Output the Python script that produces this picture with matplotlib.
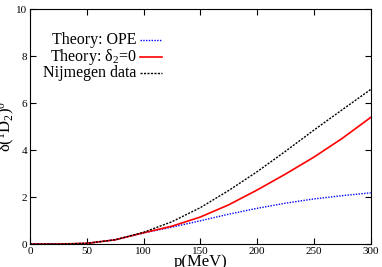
import numpy as np
import matplotlib
matplotlib.use("Agg")
import matplotlib.pyplot as plt
from matplotlib.lines import Line2D

plt.rcParams['font.family'] = ['Liberation Serif', 'DejaVu Serif']
plt.rcParams['mathtext.fontset'] = 'custom'
plt.rcParams['mathtext.rm'] = 'Liberation Serif'
plt.rcParams['mathtext.it'] = 'Liberation Serif:italic'

# momentum grid (MeV) and phase shifts
p = [0, 25, 50, 75, 100, 125, 150, 175, 200, 225, 250, 275, 300]
ope = [0, 0.0, 0.03, 0.18, 0.47, 0.72, 0.99, 1.27, 1.52, 1.74, 1.92, 2.06, 2.18]
delta2_zero = [0, 0.0, 0.03, 0.18, 0.48, 0.76, 1.15, 1.67, 2.3, 2.98, 3.7, 4.5, 5.39]
nijmegen = [0, 0.0, 0.03, 0.18, 0.5, 0.95, 1.55, 2.28, 3.08, 3.95, 4.85, 5.72, 6.58]

labels = ["Theory: OPE", "Theory: δ$_2$=0", "Nijmegen data"]
colors = ["blue", "red", "black"]
styles = [(0, (1, 1)), "-", (0, (1.5, 1))]
widths = [1, 1.2, 1]

fig = plt.figure(figsize=(3.82, 2.67), dpi=100)
ax = fig.add_axes([0.0785, 0.086, 0.892, 0.88])

for ys, c, ls, lw in zip([ope, delta2_zero, nijmegen], colors, styles, widths):
    ax.plot(p, ys, color=c, ls=ls, lw=lw)

ax.set_xlim(0, 300)
ax.set_ylim(0, 10)
ax.set_xticks([0, 50, 100, 150, 200, 250, 300])
ax.set_yticks([0, 2, 4, 6, 8, 10])
ax.tick_params(direction="in", top=True, right=True, labelsize=8, length=4, pad=2)
for s in ax.spines.values():
    s.set_linewidth(0.8)

ax.set_xlabel("p(MeV)", fontsize=12, labelpad=-1)
ax.set_ylabel("δ($^1$D$_2$)$^0$", fontsize=12, labelpad=-1)

# gnuplot-style key: text right-aligned, sample line to the right
row_y = [0.868, 0.798, 0.727]
for lab, c, ls, lw, y in zip(labels, colors, styles, widths, row_y):
    ax.text(0.312, y, lab, transform=ax.transAxes, ha="right", va="center", fontsize=11.5)
    ax.add_line(Line2D([0.324, 0.387], [y, y], transform=ax.transAxes,
                       color=c, ls=ls, lw=lw))

fig.savefig("out.png", dpi=100)
